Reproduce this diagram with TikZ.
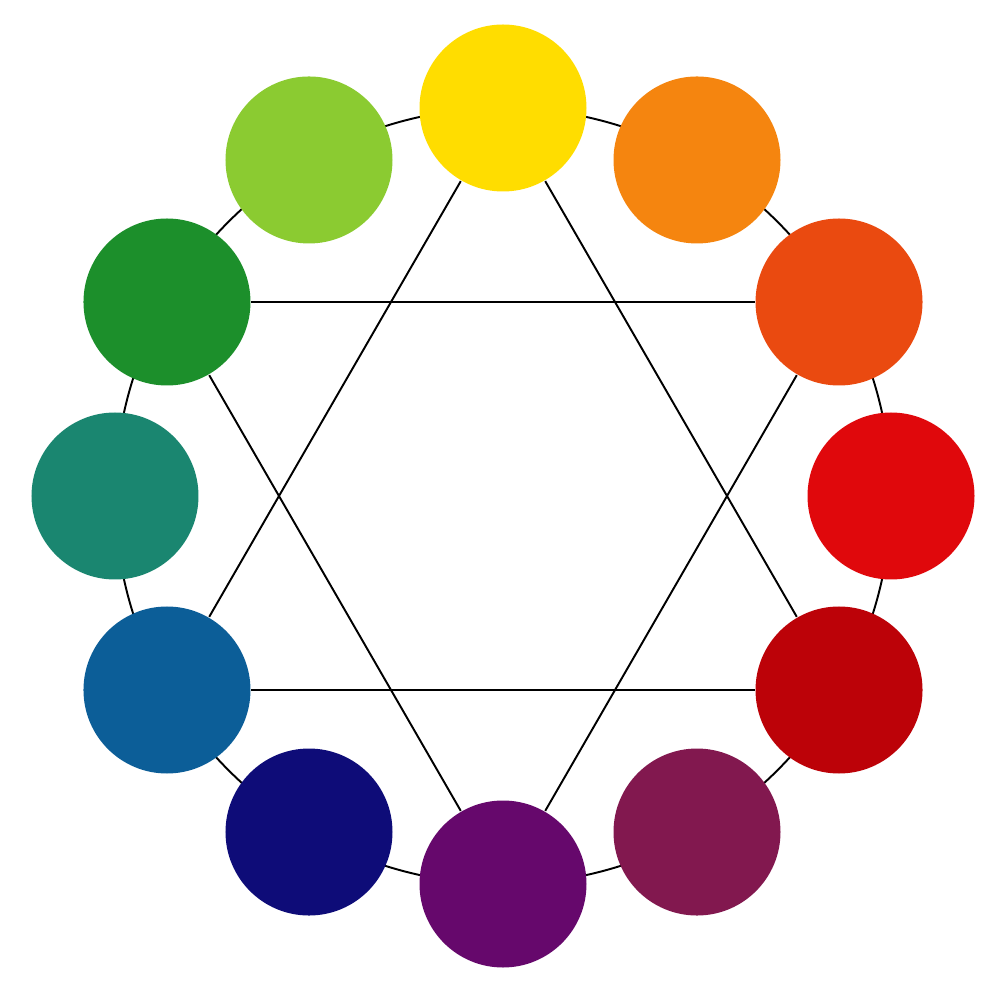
\documentclass[tikz,border=0pt]{standalone}

\definecolor{cyellow}{HTML}{FFDD00}
\definecolor{cyelloworange}{HTML}{F5850F}
\definecolor{corange}{HTML}{EA4A10}
\definecolor{cred}{HTML}{E0080C}
\definecolor{cdarkred}{HTML}{BC0208}
\definecolor{credviolet}{HTML}{82184F}
\definecolor{cviolet}{HTML}{66086C}
\definecolor{cblueviolet}{HTML}{0E0C78}
\definecolor{cblue}{HTML}{0C5E98}
\definecolor{cteal}{HTML}{1A8670}
\definecolor{cgreen}{HTML}{1C8F2B}
\definecolor{cyellowgreen}{HTML}{8BCB31}

\tikzset{dot/.style={circle,inner sep=0pt,minimum size=3.34cm}}

\begin{document}
\begin{tikzpicture}[line width=1.1pt]
  \useasboundingbox (-10.06,-10.24) rectangle (9.94,9.92);
  \coordinate (c) at (0,0);
  \draw (c) circle (7.76);

  \node[dot,fill=cyellow] (yellow) at (90:7.76) {};
  \node[dot,fill=cyelloworange] (yelloworange) at (60:7.76) {};
  \node[dot,fill=corange] (orange) at (30:7.76) {};
  \node[dot,fill=cred] (red) at (0:7.76) {};
  \node[dot,fill=cdarkred] (darkred) at (-30:7.76) {};
  \node[dot,fill=credviolet] (redviolet) at (-60:7.76) {};
  \node[dot,fill=cviolet] (violet) at (-90:7.76) {};
  \node[dot,fill=cblueviolet] (blueviolet) at (-120:7.76) {};
  \node[dot,fill=cblue] (blue) at (-150:7.76) {};
  \node[dot,fill=cteal] (teal) at (180:7.76) {};
  \node[dot,fill=cgreen] (green) at (150:7.76) {};
  \node[dot,fill=cyellowgreen] (yellowgreen) at (120:7.76) {};

  \draw (yellow) -- (darkred);
  \draw (darkred) -- (blue);
  \draw (blue) -- (yellow);
  \draw (violet) -- (orange);
  \draw (orange) -- (green);
  \draw (green) -- (violet);
\end{tikzpicture}
\end{document}
